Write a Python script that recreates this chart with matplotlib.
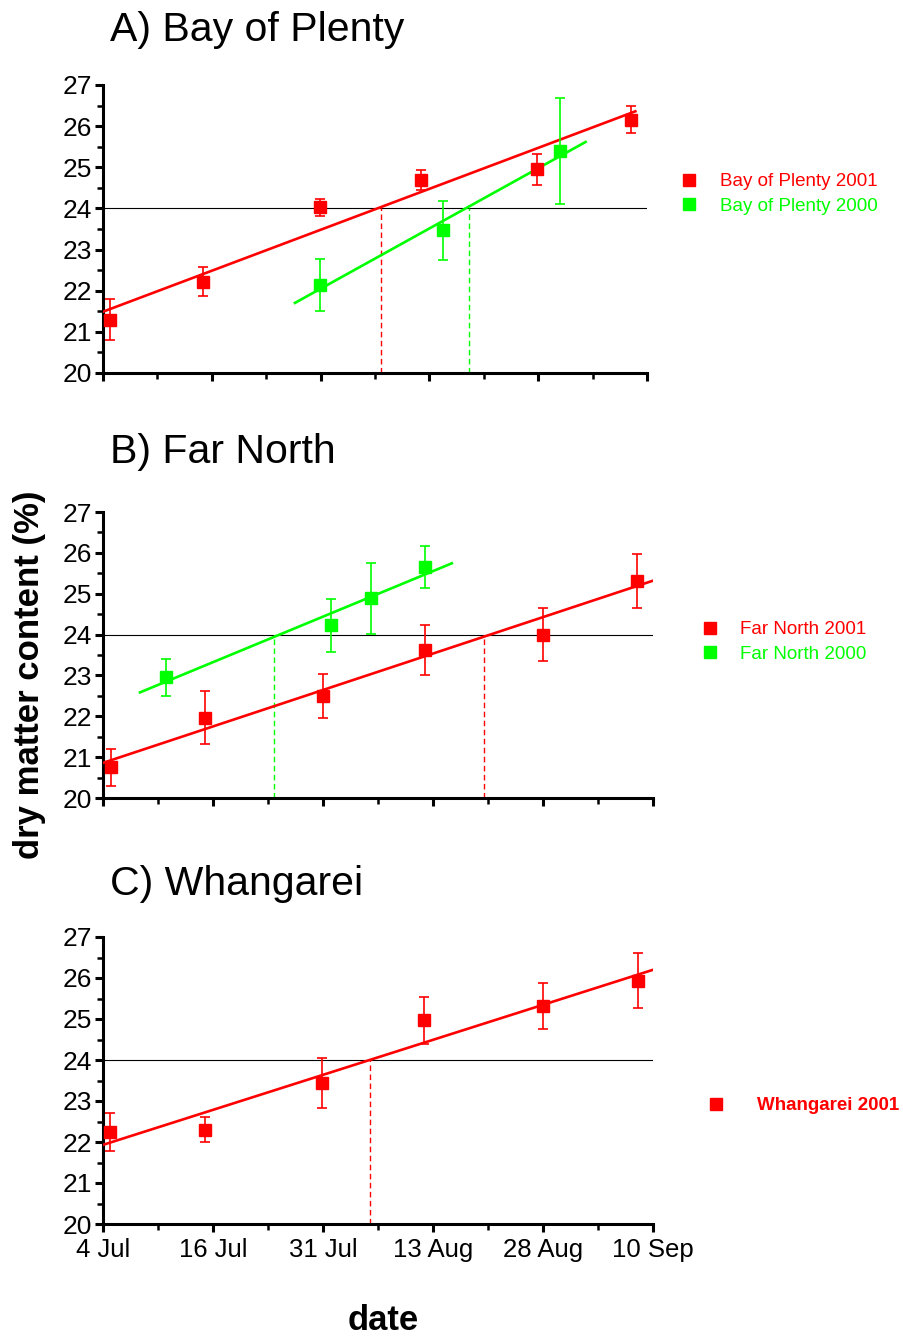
import numpy as np
import matplotlib
matplotlib.use("Agg")
import matplotlib.pyplot as plt
from matplotlib.lines import Line2D

plt.rcParams['font.family'] = ['Liberation Sans', 'DejaVu Sans']

RED = '#ff0000'
GREEN = '#00ff00'

# x values are days after 4 Jul
tick_days = [0, 14, 28, 42, 56, 70]
tick_labels = ["4 Jul", "16 Jul", "31 Jul", "13 Aug", "28 Aug", "10 Sep"]

# A) Bay of Plenty
bop01_day = [0.84, 12.85, 27.87, 40.86, 55.83, 67.9]
bop01_dm = [21.30, 22.22, 24.03, 24.69, 24.95, 26.16]
bop01_err = [0.49, 0.36, 0.21, 0.24, 0.37, 0.32]
bop01_fit = (21.49, 0.0711, 0.0, 68.5)   # intercept, slope, from, to
bop01_cross = 35.8

bop00_day = [27.87, 43.8, 58.8]
bop00_dm = [22.13, 23.47, 25.39]
bop00_err = [0.63, 0.72, 1.29]
bop00_fit = (19.12, 0.1046, 24.7, 62.1)
bop00_cross = 47.1

# B) Far North
fn01_day = [0.99, 13.0, 28.0, 41.0, 56.0, 68.0]
fn01_dm = [20.75, 21.97, 22.49, 23.62, 24.00, 25.31]
fn01_err = [0.45, 0.64, 0.54, 0.61, 0.64, 0.66]
fn01_fit = (20.86, 0.0637, 0.0, 70.0)
fn01_cross = 48.5

fn00_day = [8.03, 29.0, 34.06, 41.0]
fn00_dm = [22.95, 24.23, 24.89, 25.66]
fn00_err = [0.46, 0.65, 0.87, 0.52]
fn00_fit = (22.21, 0.0796, 4.71, 44.4)
fn00_cross = 21.8

# C) Whangarei
wh01_day = [0.86, 12.95, 27.9, 40.9, 56.0, 68.1]
wh01_dm = [22.24, 22.30, 23.44, 24.97, 25.32, 25.93]
wh01_err = [0.47, 0.31, 0.61, 0.57, 0.56, 0.67]
wh01_fit = (21.93, 0.061, 0.0, 70.0)
wh01_cross = 34.0

W, H = 904, 1336
fig = plt.figure(figsize=(W / 100, H / 100), dpi=100)


def make_axes(left, right, top, bottom):
    return fig.add_axes([left / W, 1 - bottom / H, (right - left) / W, (bottom - top) / H])


def style(ax, show_xlabels):
    ax.set_xlim(0, 70)
    ax.set_ylim(20, 27)
    for s in ['top', 'right']:
        ax.spines[s].set_visible(False)
    for s in ['left', 'bottom']:
        ax.spines[s].set_linewidth(2.2)
    ax.set_xticks(tick_days)
    ax.set_xticks([7, 21, 35, 49, 63], minor=True)
    ax.set_yticks(range(20, 28))
    ax.set_yticks(np.arange(20.5, 27, 1.0), minor=True)
    ax.tick_params(which='major', direction='out', length=6, width=2.2, labelsize=19, pad=2)
    ax.tick_params(which='minor', direction='out', length=4, width=1.8)
    if show_xlabels:
        ax.set_xticklabels(tick_labels, fontsize=18.5)
        ax.tick_params(axis='x', pad=4)
    else:
        ax.set_xticklabels([])
    ax.axhline(24, color='black', lw=0.8, zorder=1)


def series(ax, day, dm, err, fit, cross, color):
    b, m, x0, x1 = fit
    xs = np.array([x0, x1])
    ax.plot(xs, b + m * xs, color=color, lw=1.9, zorder=3)
    ax.errorbar(day, dm, yerr=err, fmt='s', color=color, ms=8.5, elinewidth=1.2,
                capsize=3.5, capthick=1.2, zorder=4)
    ax.plot([cross, cross], [20, 24], color=color, lw=1.0, ls=(0, (4, 2.5)), zorder=2)


def legend(ax, labels, colors, x, y, bold=False, gap=1.25):
    handles = [Line2D([], [], marker='s', ls='none', color=c, ms=8) for c in colors]
    leg = ax.legend(handles, labels, loc='upper left', bbox_to_anchor=(x / W, 1 - y / H),
                    bbox_transform=fig.transFigure, frameon=False, handlelength=0.8,
                    handletextpad=gap, labelspacing=0.4, borderpad=0, borderaxespad=0,
                    prop={'size': 13.5, 'weight': 'bold' if bold else 'normal'})
    for t, c in zip(leg.get_texts(), colors):
        t.set_color(c)


axA = make_axes(103, 647, 85, 373)
style(axA, False)
series(axA, bop01_day, bop01_dm, bop01_err, bop01_fit, bop01_cross, RED)
series(axA, bop00_day, bop00_dm, bop00_err, bop00_fit, bop00_cross, GREEN)
legend(axA, ["Bay of Plenty 2001", "Bay of Plenty 2000"], [RED, GREEN], 682, 173)

axB = make_axes(103, 653, 512, 798)
style(axB, False)
series(axB, fn01_day, fn01_dm, fn01_err, fn01_fit, fn01_cross, RED)
series(axB, fn00_day, fn00_dm, fn00_err, fn00_fit, fn00_cross, GREEN)
legend(axB, ["Far North 2001", "Far North 2000"], [RED, GREEN], 702, 621)

axC = make_axes(103, 653, 937, 1224)
style(axC, True)
series(axC, wh01_day, wh01_dm, wh01_err, wh01_fit, wh01_cross, RED)
legend(axC, ["Whangarei 2001"], [RED], 709, 1097, bold=True, gap=1.75)

fig.text(110 / W, 1 - 30 / H, "A) Bay of Plenty", fontsize=29.5, va='center', ha='left')
fig.text(110 / W, 1 - 452 / H, "B) Far North", fontsize=29.5, va='center', ha='left')
fig.text(110 / W, 1 - 884 / H, "C) Whangarei", fontsize=29.5, va='center', ha='left')

fig.text(30 / W, 1 - 675 / H, "dry matter content (%)", fontsize=25, fontweight='bold',
         rotation=90, va='center', ha='center')
fig.text(383 / W, 1 - 1320 / H, "date", fontsize=25, fontweight='bold', va='center', ha='center')

fig.savefig("out.png", dpi=100)
